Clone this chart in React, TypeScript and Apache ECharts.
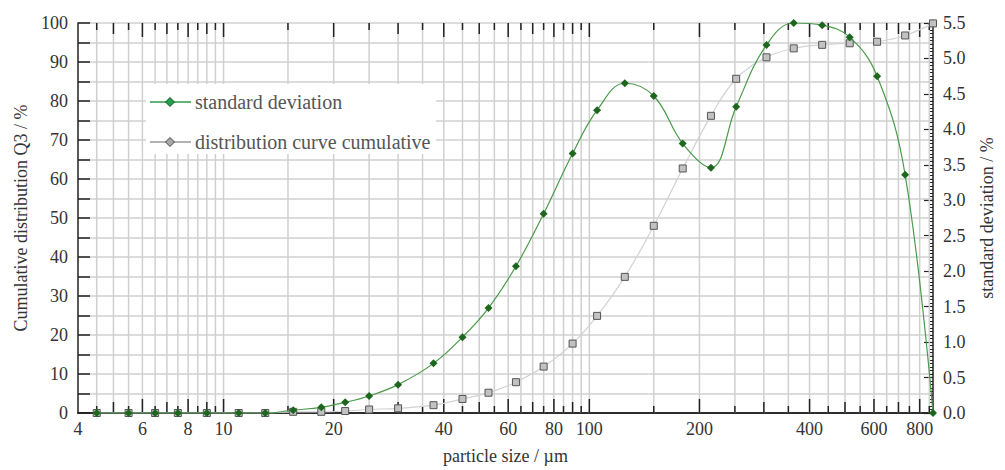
import React, { useEffect, useRef } from "react";
import * as echarts from "echarts";

// particle sizes (µm)
const sizes = [4.5, 5.5, 6.5, 7.5, 9, 11, 13, 15.5, 18.5, 21.5, 25, 30, 37.5, 45, 53, 63, 75, 90, 105, 125, 150, 180, 215, 252, 305, 362, 433, 515, 612, 730, 870];
// standard deviation (%) – right axis
const stdDev = [0, 0, 0, 0, 0, 0, 0, 0.04, 0.08, 0.15, 0.24, 0.4, 0.7, 1.07, 1.48, 2.07, 2.81, 3.66, 4.27, 4.65, 4.47, 3.8, 3.46, 4.32, 5.19, 5.5, 5.47, 5.3, 4.75, 3.36, 0];
// cumulative distribution Q3 (%) – left axis
const cumulative = [0, 0, 0, 0, 0, 0, 0, 0.3, 0.3, 0.5, 0.9, 1.2, 2.0, 3.6, 5.2, 7.9, 11.9, 17.8, 24.9, 34.9, 48.0, 62.7, 76.2, 85.7, 91.2, 93.5, 94.4, 94.8, 95.2, 96.8, 99.9];

// x-axis grid / tick positions and labelled ticks
const xGridValues = [4.5, 5, 5.5, 6, 6.5, 7, 7.5, 8, 8.5, 9, 9.5, 10, 15, 20, 25, 30, 35, 40, 45, 50, 55, 60, 65, 70, 75, 80, 85, 90, 95, 100, 150, 200, 250, 300, 350, 400, 450, 500, 550, 600, 650, 700, 750, 800, 850];
const xTickLabels = [4, 6, 8, 10, 20, 40, 60, 80, 100, 200, 400, 600, 800];

const X_MIN = 4;
const X_MAX = 870;
const FONT = "Liberation Serif";

const tickLen = (v: number) => {
  const e = Math.floor(Math.log10(v) + 1e-9);
  const m = Math.round((v / Math.pow(10, e)) * 10) / 10;
  if (m % 1 !== 0) return 7;
  if (m === 1 || m % 2 === 0) return 14;
  return 11;
};

export default function App() {
  const ref = useRef<HTMLDivElement>(null);
  useEffect(() => {
    if (!ref.current) return;
    const chart = echarts.init(ref.current, undefined, { renderer: "svg" });
    const option: any = {
      animation: false,
      backgroundColor: "#ffffff",
      grid: { left: 78, right: 72, top: 23, bottom: 53, containLabel: false },
      xAxis: [
        {
          type: "log",
          logBase: 10,
          min: X_MIN,
          max: X_MAX,
          position: "bottom",
          axisLine: { show: true, lineStyle: { color: "#222", width: 1.5 } },
          axisTick: { show: false },
          axisLabel: { show: false },
          splitLine: { show: false },
          name: "particle size / µm",
          nameLocation: "middle",
          nameGap: 34,
          nameTextStyle: { fontFamily: FONT, fontSize: 18, color: "#333" },
        },
        {
          type: "log",
          logBase: 10,
          min: X_MIN,
          max: X_MAX,
          position: "top",
          axisLine: { show: true, lineStyle: { color: "#222", width: 1.5 } },
          axisTick: { show: false },
          axisLabel: { show: false },
          splitLine: { show: false },
        },
      ],
      yAxis: [
        {
          type: "value",
          min: 0,
          max: 100,
          interval: 10,
          position: "left",
          axisLine: { show: true, lineStyle: { color: "#222", width: 1.5 } },
          axisTick: { show: true, inside: true, length: 12, lineStyle: { color: "#222", width: 1.5 } },
          minorTick: { show: true, splitNumber: 2, length: 12, lineStyle: { color: "#222", width: 1.5 } },
          splitLine: { show: true, lineStyle: { color: "#d0d0d0", width: 1.5 } },
          minorSplitLine: { show: true, lineStyle: { color: "#d0d0d0", width: 1.5 } },
          axisLabel: { margin: 10, fontFamily: FONT, fontSize: 18, color: "#333" },
          name: "Cumulative distribution Q3 / %",
          nameLocation: "middle",
          nameRotate: 90,
          nameGap: 44,
          nameTextStyle: { fontFamily: FONT, fontSize: 18, color: "#333" },
        },
        {
          type: "value",
          min: 0,
          max: 5.5,
          interval: 0.5,
          position: "right",
          axisLine: { show: true, lineStyle: { color: "#222", width: 1.5 } },
          axisTick: { show: true, inside: true, length: 9, lineStyle: { color: "#222", width: 1.2 } },
          minorTick: { show: true, splitNumber: 10, length: 4, lineStyle: { color: "#222", width: 1 } },
          splitLine: { show: false },
          axisLabel: {
            margin: 10,
            fontFamily: FONT,
            fontSize: 18,
            color: "#333",
            formatter: (v: number) => v.toFixed(1),
          },
          name: "standard deviation / %",
          nameLocation: "middle",
          nameRotate: 90,
          nameGap: 45,
          nameTextStyle: { fontFamily: FONT, fontSize: 18, color: "#333" },
        },
      ],
      series: [
        {
          type: "custom",
          name: "xgrid",
          xAxisIndex: 0,
          yAxisIndex: 0,
          z: 1,
          silent: true,
          data: xGridValues.map((v) => [v, 0]),
          renderItem: (params: any, api: any) => {
            const v = api.value(0);
            const cs = params.coordSys;
            const x = api.coord([v, 0])[0];
            const top = cs.y;
            const bottom = cs.y + cs.height;
            const len = tickLen(v);
            return {
              type: "group",
              children: [
                { type: "line", shape: { x1: x, y1: top, x2: x, y2: bottom }, style: { stroke: "#d0d0d0", lineWidth: 1.5 } },
                { type: "line", shape: { x1: x, y1: bottom, x2: x, y2: bottom - len }, style: { stroke: "#222", lineWidth: 1.5 } },
                { type: "line", shape: { x1: x, y1: top, x2: x, y2: top + len }, style: { stroke: "#222", lineWidth: 1.5 } },
              ],
            };
          },
        },
        {
          type: "custom",
          name: "xlabels",
          xAxisIndex: 0,
          yAxisIndex: 0,
          z: 3,
          silent: true,
          data: xTickLabels.map((v) => [v, 0]),
          renderItem: (params: any, api: any) => {
            const v = api.value(0);
            const cs = params.coordSys;
            const x = api.coord([v, 0])[0];
            const bottom = cs.y + cs.height;
            return {
              type: "text",
              x: x,
              y: bottom + 7,
              style: {
                text: String(v),
                textAlign: "center",
                textVerticalAlign: "top",
                fontFamily: FONT,
                fontSize: 18,
                fill: "#333",
              },
            };
          },
        },
        {
          type: "line",
          name: "distribution curve cumulative",
          xAxisIndex: 0,
          yAxisIndex: 0,
          z: 2,
          smooth: 0.4,
          data: sizes.map((s, i) => [s, cumulative[i]]),
          symbol: "rect",
          symbolSize: 7,
          itemStyle: { color: "#c2c2c2", borderColor: "#555", borderWidth: 1 },
          lineStyle: { color: "#d2d2d2", width: 1.2 },
        },
        {
          type: "line",
          name: "standard deviation",
          xAxisIndex: 0,
          yAxisIndex: 1,
          z: 3,
          smooth: 0.4,
          data: sizes.map((s, i) => [s, stdDev[i]]),
          symbol: "diamond",
          symbolSize: 8,
          itemStyle: { color: "#1d661d" },
          lineStyle: { color: "#4a9a4a", width: 1.2 },
        },
      ],
      graphic: [
        { type: "rect", z: 100, shape: { x: 146, y: 84, width: 290, height: 70 }, style: { fill: "#ffffff" } },
        { type: "line", z: 101, shape: { x1: 150, y1: 102, x2: 191, y2: 102 }, style: { stroke: "#2f9a4a", lineWidth: 1.5 } },
        { type: "polygon", z: 102, shape: { points: [[170, 97.5], [174.5, 102], [170, 106.5], [165.5, 102]] }, style: { fill: "#26a04e", stroke: "#1a4f2a", lineWidth: 1 } },
        { type: "text", z: 102, x: 195, y: 102, style: { text: "standard deviation", fontFamily: FONT, fontSize: 20, fill: "#555", textVerticalAlign: "middle" } },
        { type: "line", z: 101, shape: { x1: 150, y1: 142, x2: 191, y2: 142 }, style: { stroke: "#999", lineWidth: 1.5 } },
        { type: "polygon", z: 102, shape: { points: [[170, 137.5], [174.5, 142], [170, 146.5], [165.5, 142]] }, style: { fill: "#a8a8a8", stroke: "#444", lineWidth: 1 } },
        { type: "text", z: 102, x: 195, y: 142, style: { text: "distribution curve cumulative", fontFamily: FONT, fontSize: 20, fill: "#555", textVerticalAlign: "middle" } },
      ],
    };
    chart.setOption(option);
    return () => chart.dispose();
  }, []);
  return (
    <div
      ref={ref}
      style={{ position: "fixed", left: 0, top: 0, width: 1005, height: 470, background: "#fff" }}
    />
  );
}
